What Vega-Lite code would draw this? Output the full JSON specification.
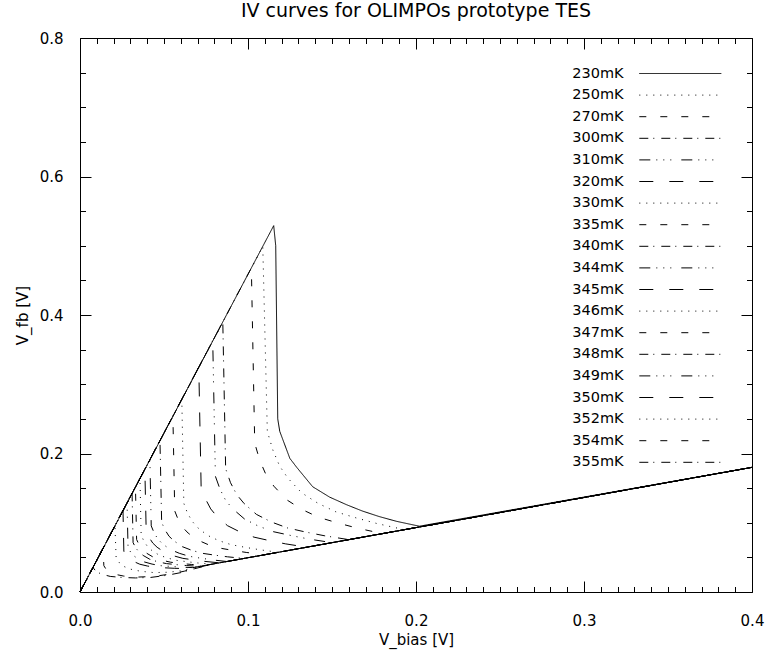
{
  "$schema": "https://vega.github.io/schema/vega-lite/v6.json",
  "autosize": {"type": "none"},
  "padding": {"left": 80, "top": 38, "right": 17, "bottom": 60},
  "width": 672,
  "height": 554,
  "background": "white",
  "title": {"text": "IV curves for OLIMPOs prototype TES", "fontSize": 19, "font": "DejaVu Sans", "fontWeight": "normal", "color": "black", "offset": 10, "anchor": "middle"},
  "config": {
    "view": {"stroke": "black", "strokeWidth": 1},
    "axis": {"domain": false, "ticks": false, "tickSize": 0, "grid": true, "gridColor": "black", "gridOpacity": 1, "gridWidth": 1, "labelColor": "black", "labelFont": "DejaVu Sans", "labelFontSize": 15, "titleFont": "DejaVu Sans", "titleFontSize": 15, "titleFontWeight": "normal", "titleColor": "black", "labelOverlap": false, "labelFlush": false}
  },
  "data": {"values": [
    {"T":"230mK","x":0,"y":0},{"T":"230mK","x":0.1153,"y":0.529},{"T":"230mK","x":0.1165,"y":0.5},{"T":"230mK","x":0.1177,"y":0.25},{"T":"230mK","x":0.1189,"y":0.232},{"T":"230mK","x":0.1249,"y":0.193},{"T":"230mK","x":0.129,"y":0.18},{"T":"230mK","x":0.1385,"y":0.152},{"T":"230mK","x":0.1486,"y":0.137},{"T":"230mK","x":0.1587,"y":0.126},{"T":"230mK","x":0.168,"y":0.117},{"T":"230mK","x":0.178,"y":0.109},{"T":"230mK","x":0.1885,"y":0.102},{"T":"230mK","x":0.202,"y":0.095},{"T":"230mK","x":0.4,"y":0.18},
    {"T":"250mK","x":0,"y":0},{"T":"250mK","x":0.1088,"y":0.499},{"T":"250mK","x":0.1115,"y":0.232},{"T":"250mK","x":0.1148,"y":0.205},{"T":"250mK","x":0.1188,"y":0.182},{"T":"250mK","x":0.1237,"y":0.1645},{"T":"250mK","x":0.1319,"y":0.1433},{"T":"250mK","x":0.1417,"y":0.128},{"T":"250mK","x":0.1523,"y":0.1158},{"T":"250mK","x":0.1645,"y":0.1069},{"T":"250mK","x":0.1767,"y":0.0989},{"T":"250mK","x":0.193,"y":0.09},{"T":"250mK","x":0.4,"y":0.18},
    {"T":"270mK","x":0,"y":0},{"T":"270mK","x":0.102,"y":0.468},{"T":"270mK","x":0.104,"y":0.215},{"T":"270mK","x":0.107,"y":0.19},{"T":"270mK","x":0.1108,"y":0.1689},{"T":"270mK","x":0.1154,"y":0.1528},{"T":"270mK","x":0.123,"y":0.1332},{"T":"270mK","x":0.1321,"y":0.1192},{"T":"270mK","x":0.142,"y":0.1079},{"T":"270mK","x":0.1534,"y":0.0997},{"T":"270mK","x":0.1648,"y":0.0924},{"T":"270mK","x":0.18,"y":0.0843},{"T":"270mK","x":0.4,"y":0.18},
    {"T":"300mK","x":0,"y":0},{"T":"300mK","x":0.085,"y":0.39},{"T":"300mK","x":0.0867,"y":0.178},{"T":"300mK","x":0.0896,"y":0.1578},{"T":"300mK","x":0.0933,"y":0.1406},{"T":"300mK","x":0.0977,"y":0.1277},{"T":"300mK","x":0.105,"y":0.1121},{"T":"300mK","x":0.1138,"y":0.1012},{"T":"300mK","x":0.1234,"y":0.0926},{"T":"300mK","x":0.1343,"y":0.0866},{"T":"300mK","x":0.1453,"y":0.0813},{"T":"300mK","x":0.16,"y":0.0756},{"T":"300mK","x":0.4,"y":0.18},
    {"T":"310mK","x":0,"y":0},{"T":"310mK","x":0.079,"y":0.363},{"T":"310mK","x":0.0806,"y":0.167},{"T":"310mK","x":0.0834,"y":0.1481},{"T":"310mK","x":0.0868,"y":0.1319},{"T":"310mK","x":0.091,"y":0.1199},{"T":"310mK","x":0.098,"y":0.1053},{"T":"310mK","x":0.1063,"y":0.095},{"T":"310mK","x":0.1153,"y":0.087},{"T":"310mK","x":0.1257,"y":0.0815},{"T":"310mK","x":0.1361,"y":0.0765},{"T":"310mK","x":0.15,"y":0.0713},{"T":"310mK","x":0.4,"y":0.18},
    {"T":"320mK","x":0,"y":0},{"T":"320mK","x":0.0707,"y":0.325},{"T":"320mK","x":0.0721,"y":0.152},{"T":"320mK","x":0.0746,"y":0.1348},{"T":"320mK","x":0.0778,"y":0.12},{"T":"320mK","x":0.0815,"y":0.1091},{"T":"320mK","x":0.0878,"y":0.0958},{"T":"320mK","x":0.0954,"y":0.0865},{"T":"320mK","x":0.1036,"y":0.0792},{"T":"320mK","x":0.113,"y":0.0741},{"T":"320mK","x":0.1224,"y":0.0695},{"T":"320mK","x":0.135,"y":0.0647},{"T":"320mK","x":0.4,"y":0.18},
    {"T":"330mK","x":0,"y":0},{"T":"330mK","x":0.0606,"y":0.278},{"T":"330mK","x":0.0618,"y":0.128},{"T":"330mK","x":0.064,"y":0.1137},{"T":"330mK","x":0.0669,"y":0.1017},{"T":"330mK","x":0.0702,"y":0.0926},{"T":"330mK","x":0.0759,"y":0.0818},{"T":"330mK","x":0.0826,"y":0.0742},{"T":"330mK","x":0.0899,"y":0.0684},{"T":"330mK","x":0.0983,"y":0.0645},{"T":"330mK","x":0.1068,"y":0.0611},{"T":"330mK","x":0.118,"y":0.0573},{"T":"330mK","x":0.4,"y":0.18},
    {"T":"335mK","x":0,"y":0},{"T":"335mK","x":0.0553,"y":0.254},{"T":"335mK","x":0.0564,"y":0.117},{"T":"335mK","x":0.0585,"y":0.1041},{"T":"335mK","x":0.0612,"y":0.0932},{"T":"335mK","x":0.0644,"y":0.085},{"T":"335mK","x":0.0698,"y":0.0753},{"T":"335mK","x":0.0762,"y":0.0685},{"T":"335mK","x":0.0832,"y":0.0634},{"T":"335mK","x":0.0912,"y":0.06},{"T":"335mK","x":0.0993,"y":0.057},{"T":"335mK","x":0.11,"y":0.0539},{"T":"335mK","x":0.4,"y":0.18},
    {"T":"340mK","x":0,"y":0},{"T":"340mK","x":0.0476,"y":0.219},{"T":"340mK","x":0.0486,"y":0.1005},{"T":"340mK","x":0.0506,"y":0.0897},{"T":"340mK","x":0.053,"y":0.0805},{"T":"340mK","x":0.056,"y":0.0737},{"T":"340mK","x":0.0609,"y":0.0655},{"T":"340mK","x":0.0667,"y":0.06},{"T":"340mK","x":0.0731,"y":0.0558},{"T":"340mK","x":0.0805,"y":0.0531},{"T":"340mK","x":0.0878,"y":0.0508},{"T":"340mK","x":0.0976,"y":0.0485},{"T":"340mK","x":0.4,"y":0.18},
    {"T":"344mK","x":0,"y":0},{"T":"344mK","x":0.0416,"y":0.191},{"T":"344mK","x":0.0424,"y":0.0955},{"T":"344mK","x":0.0442,"y":0.0849},{"T":"344mK","x":0.0465,"y":0.076},{"T":"344mK","x":0.0492,"y":0.0693},{"T":"344mK","x":0.0537,"y":0.0614},{"T":"344mK","x":0.0591,"y":0.0559},{"T":"344mK","x":0.0649,"y":0.0516},{"T":"344mK","x":0.0717,"y":0.0489},{"T":"344mK","x":0.0784,"y":0.0465},{"T":"344mK","x":0.0874,"y":0.044},{"T":"344mK","x":0.4,"y":0.18},
    {"T":"345mK","x":0,"y":0},{"T":"345mK","x":0.0386,"y":0.177},{"T":"345mK","x":0.0394,"y":0.0886},{"T":"345mK","x":0.0411,"y":0.0789},{"T":"345mK","x":0.0433,"y":0.0707},{"T":"345mK","x":0.0459,"y":0.0646},{"T":"345mK","x":0.0503,"y":0.0574},{"T":"345mK","x":0.0555,"y":0.0524},{"T":"345mK","x":0.0612,"y":0.0486},{"T":"345mK","x":0.0677,"y":0.0463},{"T":"345mK","x":0.0743,"y":0.0442},{"T":"345mK","x":0.083,"y":0.0421},{"T":"345mK","x":0.4,"y":0.18},
    {"T":"346mK","x":0,"y":0},{"T":"346mK","x":0.0357,"y":0.164},{"T":"346mK","x":0.0364,"y":0.082},{"T":"346mK","x":0.0381,"y":0.0732},{"T":"346mK","x":0.0402,"y":0.0656},{"T":"346mK","x":0.0427,"y":0.0601},{"T":"346mK","x":0.0469,"y":0.0535},{"T":"346mK","x":0.052,"y":0.0491},{"T":"346mK","x":0.0575,"y":0.0457},{"T":"346mK","x":0.0638,"y":0.0437},{"T":"346mK","x":0.0701,"y":0.0419},{"T":"346mK","x":0.0785,"y":0.0401},{"T":"346mK","x":0.4,"y":0.18},
    {"T":"347mK","x":0,"y":0},{"T":"347mK","x":0.033,"y":0.152},{"T":"347mK","x":0.0337,"y":0.0757},{"T":"347mK","x":0.0353,"y":0.0676},{"T":"347mK","x":0.0374,"y":0.0608},{"T":"347mK","x":0.0398,"y":0.0558},{"T":"347mK","x":0.0439,"y":0.0499},{"T":"347mK","x":0.0487,"y":0.0459},{"T":"347mK","x":0.054,"y":0.043},{"T":"347mK","x":0.0601,"y":0.0412},{"T":"347mK","x":0.0662,"y":0.0398},{"T":"347mK","x":0.0743,"y":0.0383},{"T":"347mK","x":0.4,"y":0.18},
    {"T":"348mK","x":0,"y":0},{"T":"348mK","x":0.031,"y":0.142},{"T":"348mK","x":0.0316,"y":0.0712},{"T":"348mK","x":0.0332,"y":0.0637},{"T":"348mK","x":0.0352,"y":0.0574},{"T":"348mK","x":0.0376,"y":0.0528},{"T":"348mK","x":0.0415,"y":0.0473},{"T":"348mK","x":0.0463,"y":0.0436},{"T":"348mK","x":0.0515,"y":0.041},{"T":"348mK","x":0.0574,"y":0.0395},{"T":"348mK","x":0.0634,"y":0.0382},{"T":"348mK","x":0.0713,"y":0.037},{"T":"348mK","x":0.4,"y":0.18},
    {"T":"349mK","x":0,"y":0},{"T":"349mK","x":0.028,"y":0.129},{"T":"349mK","x":0.0286,"y":0.0643},{"T":"349mK","x":0.0301,"y":0.0577},{"T":"349mK","x":0.0321,"y":0.0521},{"T":"349mK","x":0.0344,"y":0.0481},{"T":"349mK","x":0.0383,"y":0.0434},{"T":"349mK","x":0.0429,"y":0.0403},{"T":"349mK","x":0.0479,"y":0.038},{"T":"349mK","x":0.0537,"y":0.037},{"T":"349mK","x":0.0595,"y":0.036},{"T":"349mK","x":0.0672,"y":0.0352},{"T":"349mK","x":0.4,"y":0.18},
    {"T":"350mK","x":0,"y":0},{"T":"350mK","x":0.0256,"y":0.118},{"T":"350mK","x":0.0261,"y":0.0588},{"T":"350mK","x":0.0276,"y":0.0528},{"T":"350mK","x":0.0295,"y":0.0478},{"T":"350mK","x":0.0318,"y":0.0442},{"T":"350mK","x":0.0356,"y":0.0401},{"T":"350mK","x":0.0401,"y":0.0375},{"T":"350mK","x":0.0451,"y":0.0357},{"T":"350mK","x":0.0507,"y":0.0349},{"T":"350mK","x":0.0564,"y":0.0342},{"T":"350mK","x":0.064,"y":0.0338},{"T":"350mK","x":0.4,"y":0.18},
    {"T":"352mK","x":0,"y":0},{"T":"352mK","x":0.0208,"y":0.0955},{"T":"352mK","x":0.0215,"y":0.05},{"T":"352mK","x":0.0235,"y":0.042},{"T":"352mK","x":0.026,"y":0.037},{"T":"352mK","x":0.03,"y":0.033},{"T":"352mK","x":0.036,"y":0.03},{"T":"352mK","x":0.044,"y":0.028},{"T":"352mK","x":0.052,"y":0.0285},{"T":"352mK","x":0.06,"y":0.0305},{"T":"352mK","x":0.07,"y":0.0365},{"T":"352mK","x":0.4,"y":0.18},
    {"T":"354mK","x":0,"y":0},{"T":"354mK","x":0.0137,"y":0.063},{"T":"354mK","x":0.0142,"y":0.038},{"T":"354mK","x":0.016,"y":0.031},{"T":"354mK","x":0.02,"y":0.026},{"T":"354mK","x":0.026,"y":0.023},{"T":"354mK","x":0.034,"y":0.0215},{"T":"354mK","x":0.044,"y":0.0225},{"T":"354mK","x":0.054,"y":0.026},{"T":"354mK","x":0.062,"y":0.03},{"T":"354mK","x":0.07,"y":0.0355},{"T":"354mK","x":0.08,"y":0.0408},{"T":"354mK","x":0.4,"y":0.18},
    {"T":"355mK","x":0,"y":0},{"T":"355mK","x":0.0077,"y":0.0353},{"T":"355mK","x":0.0095,"y":0.03},{"T":"355mK","x":0.0125,"y":0.026},{"T":"355mK","x":0.018,"y":0.0225},{"T":"355mK","x":0.025,"y":0.021},{"T":"355mK","x":0.033,"y":0.0203},{"T":"355mK","x":0.042,"y":0.021},{"T":"355mK","x":0.052,"y":0.0242},{"T":"355mK","x":0.06,"y":0.028},{"T":"355mK","x":0.068,"y":0.0335},{"T":"355mK","x":0.08,"y":0.0408},{"T":"355mK","x":0.4,"y":0.18}
  ]},
  "mark": {"type": "line", "color": "black", "strokeWidth": 1},
  "encoding": {
    "x": {"field": "x", "type": "quantitative", "scale": {"domain": [0, 0.4], "nice": false, "zero": false},
      "axis": {"orient": "bottom", "title": "V_bias [V]", "titlePadding": 4, "labelPadding": 21,
        "values": [0,0.01,0.02,0.03,0.04,0.05,0.06,0.07,0.08,0.09,0.1,0.11,0.12,0.13,0.14,0.15,0.16,0.17,0.18,0.19,0.2,0.21,0.22,0.23,0.24,0.25,0.26,0.27,0.28,0.29,0.3,0.31,0.32,0.33,0.34,0.35,0.36,0.37,0.38,0.39,0.4],
        "labelExpr": "abs(datum.value*10-round(datum.value*10))<0.000001 ? format(datum.value,'.1f') : ''",
        "gridDash": {"condition": {"test": "abs(datum.value*10-round(datum.value*10))<0.000001", "value": [11, 532]}, "value": [5.5, 543]}}},
    "y": {"field": "y", "type": "quantitative", "scale": {"domain": [0, 0.8], "nice": false, "zero": false},
      "axis": {"orient": "left", "title": "V_fb [V]", "titlePadding": 9, "labelPadding": 17,
        "values": [0,0.05,0.1,0.15,0.2,0.25,0.3,0.35,0.4,0.45,0.5,0.55,0.6,0.65,0.7,0.75,0.8],
        "labelExpr": "abs(datum.value*5-round(datum.value*5))<0.000001 ? format(datum.value,'.1f') : ''",
        "gridDash": {"condition": {"test": "abs(datum.value*5-round(datum.value*5))<0.000001", "value": [11, 650]}, "value": [5.5, 661]}}},
    "strokeDash": {"field": "T", "type": "nominal",
      "scale": {"domain": ["230mK","250mK","270mK","300mK","310mK","320mK","330mK","335mK","340mK","344mK","345mK","346mK","347mK","348mK","349mK","350mK","352mK","354mK","355mK"],
        "range": [[1,0],[1,6],[7,14],[9,5,1,7],[11,6,1,6,1,6,1,10],[14,16],[1,6],[7,14],[9,5,1,7],[11,6,1,6,1,6,1,10],[14,16],[1,6],[7,14],[9,5,1,7],[11,6,1,6,1,6,1,10],[14,16],[1,6],[7,14],[9,5,1,7]]},
      "legend": {"orient": "none", "legendX": 591.3, "legendY": 26.5, "title": null, "symbolType": "M-5,0H5", "symbolSize": 268.96, "symbolStrokeWidth": 1, "symbolStrokeColor": "black", "symbolFillColor": "transparent", "labelAlign": "right", "labelOffset": -65.7, "labelFont": "DejaVu Sans", "labelFontSize": 14.5, "labelColor": "black", "labelLimit": 0, "rowPadding": 5.6, "padding": 0}}
  }
}
